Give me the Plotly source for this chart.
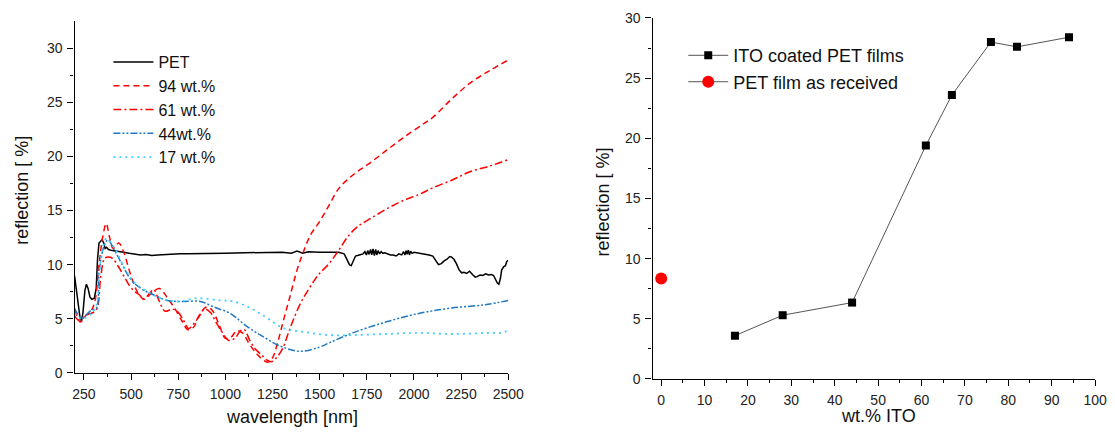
import plotly.graph_objects as go

# ---------------- Left chart data (wavelength [nm] vs reflection [%]) ----------------
pet_wl = [200, 210, 220, 230, 237, 245, 255, 263, 272, 282, 292, 305, 315, 322, 330, 338, 346, 355, 362, 370,
          380, 400, 430, 460, 490, 520, 550, 580, 610, 640, 680, 720, 760, 800, 850, 900, 1000, 1100, 1200,
          1300, 1350, 1380, 1410, 1440, 1500, 1600, 1630, 1645, 1658, 1667, 1678, 1690, 1710, 1730,
          1740, 1748, 1755, 1762, 1770, 1776, 1783, 1790, 1797, 1803, 1810, 1818, 1826, 1835, 1845, 1860,
          1875, 1890, 1905, 1920, 1935, 1945, 1952, 1958, 1964, 1970, 1976, 1982, 1990, 2000, 2020, 2040,
          2060, 2080, 2100, 2115, 2130, 2145, 2160, 2175, 2190, 2200, 2212, 2225, 2240, 2253, 2265, 2280,
          2295, 2310, 2325, 2335, 2350, 2365, 2380, 2395, 2410, 2422, 2432, 2442, 2450, 2458, 2465, 2475,
          2485, 2492, 2500]
pet_r = [9.0, 7.5, 6.0, 5.0, 4.8, 5.6, 7.6, 8.2, 7.8, 7.0, 6.8, 6.9, 7.8, 10.5, 12.0, 12.2, 12.3, 12.0, 11.5, 11.6,
         11.4, 11.3, 11.25, 11.15, 11.05, 11.0, 10.9, 10.95, 10.85, 10.9, 10.95, 10.95, 11.0, 11.0, 11.0, 11.05,
         11.05, 11.1, 11.1, 11.15, 11.05, 11.25, 11.05, 11.2, 11.15, 11.15, 11.0, 10.5, 10.0, 9.9, 10.3, 10.8,
         10.9, 11.0, 11.2, 10.9, 11.3, 10.95, 11.4, 10.9, 11.45, 10.85, 11.4, 10.9, 11.3, 11.0, 11.2, 11.05,
         11.1, 11.0, 10.9, 10.9, 10.8, 11.0, 10.9, 11.2, 10.9, 11.3, 10.95, 11.35, 10.9, 11.25, 11.05, 11.15,
         11.1, 11.05, 11.0, 10.9, 10.8, 10.4, 10.0, 10.1, 10.35, 10.5, 10.75, 10.7, 10.5, 10.1, 9.5, 9.25, 9.3,
         9.2, 9.4, 9.1, 8.85, 8.9, 9.05, 9.0, 9.15, 9.05, 9.1, 9.0, 8.6, 8.3, 8.2, 8.7, 9.5, 9.8, 9.9, 10.3, 10.4]

wt94_wl = [200, 215, 230, 260, 290, 310, 330, 350, 368, 385, 405, 435, 460, 490, 515, 540, 570, 610, 650, 690,
           730, 770, 800, 830, 860, 900, 930, 970, 1000, 1030, 1060, 1090, 1130, 1170, 1200, 1225, 1250, 1280,
           1310, 1340, 1380, 1412, 1450, 1500, 1550, 1600, 1650, 1700, 1760, 1850, 1950, 2050, 2100, 2200,
           2300, 2400, 2500]
wt94_r = [5.8, 5.2, 4.7, 5.3, 5.8, 6.8, 10.0, 12.6, 13.8, 12.6, 11.5, 12.0, 11.2, 9.5, 8.2, 7.3, 6.8, 7.4, 7.8,
          7.0, 6.0, 4.8, 4.0, 4.2, 5.3, 6.1, 5.8, 4.3, 3.2, 3.3, 3.9, 3.7, 2.6, 1.7, 1.2, 1.0, 1.4, 3.0, 5.0,
          6.9, 9.5, 11.1, 12.7, 14.0, 15.5, 17.0, 17.9, 18.6, 19.3, 20.5, 21.8, 23.0, 23.6, 25.3, 26.8, 27.9, 28.9]

wt61_wl = [200, 220, 240, 270, 300, 320, 340, 360, 380, 400, 430, 460, 490, 520, 545, 565, 600, 620, 650, 680,
           720, 750, 780, 805, 830, 860, 890, 920, 950, 985, 1018, 1050, 1080, 1100, 1130, 1160, 1190, 1220,
           1245, 1275, 1305, 1330, 1360, 1400, 1430, 1470, 1500, 1550, 1600, 1650, 1700, 1763, 1850, 1940,
           2030, 2100, 2200, 2300, 2400, 2500]
wt61_r = [5.3, 4.9, 5.0, 5.4, 5.6, 6.0, 9.0, 10.6, 10.7, 10.6, 9.9, 9.0, 8.1, 7.5, 7.2, 6.8, 7.4, 7.7, 6.6, 5.7,
          5.9, 5.6, 4.8, 4.1, 4.5, 5.2, 5.9, 5.6, 4.7, 3.7, 3.0, 3.2, 3.9, 4.0, 3.0, 2.2, 1.7, 1.2, 1.05, 1.5,
          2.3, 3.5, 4.9, 6.5, 7.4, 8.5, 9.2, 10.1, 11.3, 12.6, 13.5, 14.2, 15.1, 15.9, 16.5, 17.1, 17.8, 18.6,
          19.1, 19.7]

wt44_wl = [200, 237, 289, 316, 331, 358, 377, 410, 447, 500, 553, 621, 693, 763, 868, 938, 1026, 1114, 1200,
           1289, 1394, 1500, 1553, 1674, 1850, 2026, 2200, 2377, 2500]
wt44_r = [6.0, 5.1, 5.8, 6.0, 9.5, 11.8, 12.3, 11.4, 10.2, 8.6, 7.8, 7.2, 6.7, 6.6, 6.6, 6.1, 5.5, 4.3, 3.35,
          2.5, 2.0, 2.4, 2.8, 3.7, 4.7, 5.5, 6.0, 6.3, 6.7]

wt17_wl = [200, 237, 290, 315, 340, 368, 410, 463, 516, 588, 658, 745, 850, 974, 1044, 1132, 1219, 1307, 1412,
           1553, 1674, 1850, 2026, 2200, 2377, 2484, 2500]
wt17_r = [5.5, 5.0, 5.5, 6.2, 10.5, 12.4, 11.6, 9.8, 8.4, 7.5, 6.9, 6.6, 6.9, 6.7, 6.6, 6.0, 5.1, 4.15, 3.8,
          3.5, 3.5, 3.6, 3.7, 3.6, 3.7, 3.8, 4.2]

# ---------------- Right chart data (wt.% ITO vs reflection [%]) ----------------
ito_wt = [17, 28, 44, 61, 67, 76, 82, 94]
ito_r = [3.6, 5.3, 6.35, 19.4, 23.6, 28.0, 27.6, 28.4]
pet_wt = [0]
pet_film_r = [8.35]

left_xticks = [250, 500, 750, 1000, 1250, 1500, 1750, 2000, 2250, 2500]
left_xminor = [375, 625, 875, 1125, 1375, 1625, 1875, 2125, 2375]
left_yticks = [0, 5, 10, 15, 20, 25, 30]
yminor = [2.5, 7.5, 12.5, 17.5, 22.5, 27.5]
right_xticks = [0, 10, 20, 30, 40, 50, 60, 70, 80, 90, 100]
right_xminor = [5, 15, 25, 35, 45, 55, 65, 75, 85, 95]
right_yticks = [0, 5, 10, 15, 20, 25, 30]

FONT = "Liberation Sans, Arial, sans-serif"
RED = "#ff0000"
BLUE = "#1f78c1"
CYAN = "#3fd0ff"

fig = go.Figure()
fig.add_trace(go.Scatter(x=pet_wl, y=pet_r, mode="lines", name="PET",
                         line=dict(color="black", width=1.5), xaxis="x", yaxis="y", legend="legend"))
fig.add_trace(go.Scatter(x=wt94_wl, y=wt94_r, mode="lines", name="94 wt.%", line_shape="spline",
                         line=dict(color=RED, width=1.5, dash="6px,4px"), xaxis="x", yaxis="y", legend="legend"))
fig.add_trace(go.Scatter(x=wt61_wl, y=wt61_r, mode="lines", name="61 wt.%", line_shape="spline",
                         line=dict(color=RED, width=1.5, dash="8px,3px,2px,3px"), xaxis="x", yaxis="y", legend="legend"))
fig.add_trace(go.Scatter(x=wt44_wl, y=wt44_r, mode="lines", name="44wt.%", line_shape="spline",
                         line=dict(color=BLUE, width=1.5, dash="7px,2px,2px,2px,2px,2px"), xaxis="x", yaxis="y",
                         legend="legend"))
fig.add_trace(go.Scatter(x=wt17_wl, y=wt17_r, mode="lines", name="17 wt.%", line_shape="spline",
                         line=dict(color=CYAN, width=1.8, dash="2px,4px"), xaxis="x", yaxis="y", legend="legend"))

fig.add_trace(go.Scatter(x=ito_wt, y=ito_r, mode="lines+markers", name="ITO coated PET films",
                         line=dict(color="#555555", width=1),
                         marker=dict(symbol="square", size=8, color="black"),
                         xaxis="x2", yaxis="y2", legend="legend2"))
fig.add_trace(go.Scatter(x=pet_wt, y=pet_film_r, mode="lines+markers", name="PET film as received",
                         line=dict(color="#555555", width=1),
                         marker=dict(symbol="circle", size=12, color=RED),
                         xaxis="x2", yaxis="y2", legend="legend2"))

axis_common = dict(showline=True, linecolor="black", linewidth=1.3, ticks="outside", ticklen=6,
                   tickwidth=1.2, tickcolor="black", showgrid=False, zeroline=False,
                   tickfont=dict(family=FONT, size=14, color="#222222"), ticklabelstandoff=2)
minor_common = dict(ticklen=3, ticks="outside", tickcolor="black", tickwidth=1.2)

fig.update_layout(
    width=1115, height=432, margin=dict(l=0, r=0, t=0, b=0),
    paper_bgcolor="white", plot_bgcolor="white",
    font=dict(family=FONT, color="#222222"),
    xaxis=dict(domain=[0.0661, 0.4615], range=[200, 2500], anchor="y", tickmode="array",
               tickvals=left_xticks, minor=dict(tickvals=left_xminor, **minor_common), **axis_common),
    yaxis=dict(domain=[0.1226, 0.9688], range=[0, 32.5], anchor="x", tickmode="array",
               tickvals=left_yticks, minor=dict(tickvals=yminor, **minor_common), **axis_common),
    xaxis2=dict(domain=[0.5930, 0.9964], range=[-2, 100], anchor="y2", tickmode="array",
                tickvals=right_xticks, minor=dict(tickvals=right_xminor, **minor_common), **axis_common),
    yaxis2=dict(domain=[0.1082, 0.9760], range=[0, 30], anchor="x2", tickmode="array",
                tickvals=right_yticks, minor=dict(tickvals=yminor, **minor_common), **axis_common),
    legend=dict(x=0.097, y=0.911, xanchor="left", yanchor="top", bgcolor="rgba(0,0,0,0)",
                font=dict(family=FONT, size=16, color="#111111"), itemwidth=40, tracegroupgap=0),
    legend2=dict(x=0.621, y=0.930, xanchor="left", yanchor="top", bgcolor="rgba(0,0,0,0)",
                 font=dict(family=FONT, size=18, color="#111111"), itemwidth=40, tracegroupgap=0),
    annotations=[
        dict(text="wavelength [nm]", x=0.2643, y=0.0168, xref="paper", yref="paper", showarrow=False,
             xanchor="center", yanchor="middle", font=dict(family=FONT, size=18, color="#111111")),
        dict(text="reflection [ %]", x=0.0181, y=0.5625, xref="paper", yref="paper", showarrow=False,
             textangle=-90, xanchor="center", yanchor="middle", font=dict(family=FONT, size=18, color="#111111")),
        dict(text="wt.% ITO", x=0.7991, y=0.0192, xref="paper", yref="paper", showarrow=False,
             xanchor="center", yanchor="middle", font=dict(family=FONT, size=18, color="#111111")),
        dict(text="reflection [ %]", x=0.5475, y=0.5337, xref="paper", yref="paper", showarrow=False,
             textangle=-90, xanchor="center", yanchor="middle", font=dict(family=FONT, size=18, color="#111111")),
    ],
)

fig.write_html("out.html")
